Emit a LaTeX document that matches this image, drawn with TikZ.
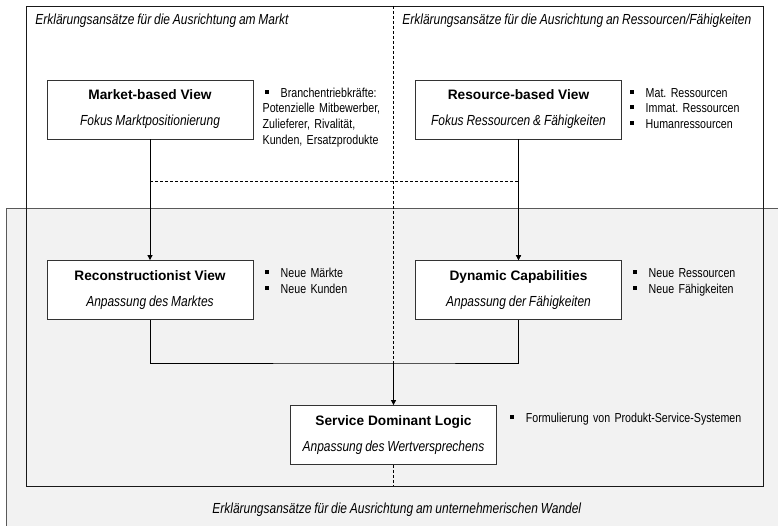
\documentclass[tikz,border=0pt]{standalone}
\usepackage{fontspec}
\setmainfont{Liberation Sans}
\newfontfamily\narrowfont[FakeStretch=0.82,WordSpace=0.85]{Liberation Sans}
\usetikzlibrary{arrows.meta}
\definecolor{panelgray}{HTML}{F2F2F2}
\frenchspacing
\newcommand{\bsq}{\rule[3.5pt]{4pt}{4pt}\hspace{12pt}}
\newcommand{\vtitle}[2]{{\bfseries #1}\\{\narrowfont\itshape\fontsize{14.6}{26}\selectfont #2}}

\tikzset{
  viewbox/.style={draw=black!80, fill=white, minimum width=206pt, minimum height=59pt,
    inner sep=0pt, align=center, font=\fontsize{13.7}{26}\selectfont},
  bullets/.style={anchor=base west, inner sep=0pt, align=left, text width=#1,
    font=\narrowfont\fontsize{13}{15.6}\selectfont},
  bullets/.default=150pt,
  region/.style={anchor=base west, inner sep=0pt, font=\narrowfont\itshape\fontsize{14.6}{17}\selectfont},
  flow/.style={-{Triangle[length=5pt,width=5pt]}},
  divider/.style={dash pattern=on 3pt off 2pt}
}

\begin{document}
\begin{tikzpicture}[x=1pt,y=-1pt,line width=0.8pt]
  \useasboundingbox (0,0) rectangle (778,526);
  % lower panel
  \fill[panelgray] (6,208) rectangle (778,526);
  \draw[black!65] (778,208) -- (6,208) -- (6,526);
  % upper frame
  \draw[black!90] (26,6) rectangle (763,486);

  \node[region] (lmarket) at (35,25) {Erklärungsansätze für die Ausrichtung am Markt};
  \node[region] (lres) at (402,25) {Erklärungsansätze für die Ausrichtung an Ressourcen/Fähigkeiten};
  \node[region] (lwandel) at (212,513) {Erklärungsansätze für die Ausrichtung am unternehmerischen Wandel};

  \node[viewbox] (mbv) at (150,109.5) {\vtitle{Market-based View}{Fokus Marktpositionierung}};
  \node[viewbox] (rbv) at (518.5,109.5) {\vtitle{Resource-based View}{Fokus Ressourcen \& Fähigkeiten}};
  \node[viewbox] (rv) at (150,290) {\vtitle{Reconstructionist View}{Anpassung des Marktes}};
  \node[viewbox] (dc) at (518.5,290) {\vtitle{Dynamic Capabilities}{Anpassung der Fähigkeiten}};
  \node[viewbox] (sdl) at (393.5,435) {\vtitle{Service Dominant Logic}{Anpassung des Wertversprechens}};

  \node[bullets] (mbvlist) at (262.3,97.3) {\hspace*{2pt}\bsq Branchentriebkräfte:\\Potenzielle Mitbewerber,\\Zulieferer, Rivalität,\\Kunden, Ersatzprodukte};
  \node[bullets] (rbvlist) at (629.3,97.3) {\bsq Mat. Ressourcen\\\bsq Immat. Ressourcen\\\bsq Humanressourcen};
  \node[bullets] (rvlist) at (264.3,277.7) {\bsq Neue Märkte\\\bsq Neue Kunden};
  \node[bullets] (dclist) at (632.3,277.7) {\bsq Neue Ressourcen\\\bsq Neue Fähigkeiten};
  \node[bullets=250pt] (sdllist) at (509.5,422.5) {\bsq Formulierung von Produkt-Service-Systemen};

  \coordinate (top) at (393.5,6);
  \coordinate (merge) at (393.5,363);
  \coordinate (bottom) at (393.5,486);
  \coordinate (split) at (150,181);

  % divider between the two upper fields
  \draw[divider] (top) -- (merge);
  \draw[divider] (sdl.south) -- (bottom);

  \draw[flow] (mbv) -- (rv);
  \draw[flow] (rbv) -- (dc);
  \draw[divider,flow] (split) -- (split -| rbv.south) -- (dc.north);
  \draw (rv.south) |- (merge) -| (dc.south);
  \draw[flow] (merge) -- (sdl.north);
\end{tikzpicture}
\end{document}
